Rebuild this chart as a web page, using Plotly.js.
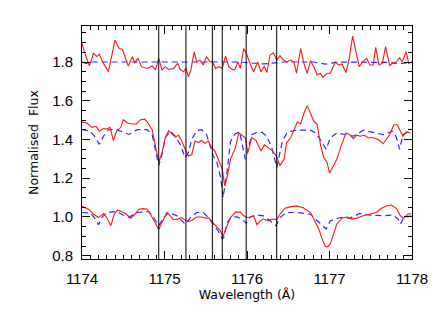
<!DOCTYPE html>
<html>
<head>
<meta charset="utf-8">
<script src="https://cdn.plot.ly/plotly-3.0.1.min.js"></script>
<style>html,body{margin:0;padding:0;background:#fff;}#chart{width:436px;height:312px;}</style>
</head>
<body>
<div id="chart"></div>
<script>
// ---- Data ----
const lineWavelengths = [1174.93, 1175.26, 1175.58, 1175.70, 1175.99, 1176.36];

const topObsWl = [1174.00,1174.04,1174.09,1174.14,1174.18,1174.21,1174.26,1174.32,1174.40,1174.45,1174.49,1174.56,1174.61,1174.64,1174.68,1174.72,1174.79,1174.85,1174.89,1174.93,1174.97,1175.01,1175.05,1175.11,1175.16,1175.19,1175.23,1175.26,1175.29,1175.32,1175.36,1175.39,1175.43,1175.47,1175.51,1175.55,1175.58,1175.62,1175.66,1175.70,1175.74,1175.78,1175.82,1175.85,1175.89,1175.92,1175.96,1176.00,1176.03,1176.08,1176.13,1176.17,1176.21,1176.24,1176.28,1176.32,1176.36,1176.40,1176.44,1176.48,1176.53,1176.57,1176.60,1176.65,1176.69,1176.73,1176.77,1176.81,1176.85,1176.89,1176.92,1176.97,1177.01,1177.07,1177.11,1177.15,1177.20,1177.24,1177.28,1177.32,1177.36,1177.40,1177.45,1177.49,1177.53,1177.56,1177.60,1177.64,1177.68,1177.73,1177.77,1177.81,1177.85,1177.88,1177.93,1177.96,1178.00];
const topObsFlux = [1.896,1.836,1.780,1.845,1.828,1.840,1.793,1.750,1.913,1.870,1.866,1.780,1.827,1.797,1.819,1.776,1.767,1.780,1.759,1.819,1.759,1.776,1.762,1.767,1.793,1.762,1.750,1.767,1.724,1.759,1.853,1.802,1.810,1.785,1.827,1.802,1.802,1.767,1.776,1.767,1.830,1.776,1.762,1.759,1.800,1.767,1.870,1.836,1.800,1.750,1.800,1.750,1.780,1.745,1.836,1.848,1.810,1.833,1.810,1.800,1.810,1.800,1.742,1.870,1.793,1.742,1.807,1.776,1.733,1.742,1.721,1.742,1.742,1.800,1.785,1.790,1.745,1.819,1.934,1.845,1.776,1.800,1.819,1.785,1.785,1.876,1.785,1.793,1.879,1.780,1.797,1.800,1.822,1.800,1.853,1.793,1.800];

const topModWl = [1174.00,1174.05,1174.12,1174.30,1174.90,1175.40,1175.70,1175.90,1176.20,1176.45,1176.80,1176.95,1177.10,1177.40,1177.70,1177.85,1178.00];
const topModFlux = [1.800,1.793,1.800,1.800,1.800,1.800,1.797,1.800,1.790,1.800,1.800,1.789,1.800,1.800,1.798,1.791,1.800];

const midObsWl = [1174.00,1174.06,1174.12,1174.17,1174.21,1174.26,1174.30,1174.34,1174.38,1174.42,1174.47,1174.50,1174.55,1174.61,1174.66,1174.71,1174.76,1174.80,1174.85,1174.89,1174.93,1174.97,1175.01,1175.05,1175.09,1175.13,1175.17,1175.21,1175.25,1175.29,1175.33,1175.37,1175.41,1175.45,1175.49,1175.53,1175.57,1175.61,1175.65,1175.70,1175.73,1175.76,1175.80,1175.86,1175.90,1175.94,1175.98,1176.01,1176.06,1176.11,1176.17,1176.21,1176.26,1176.31,1176.36,1176.40,1176.45,1176.48,1176.53,1176.57,1176.61,1176.65,1176.69,1176.73,1176.77,1176.81,1176.85,1176.89,1176.93,1176.97,1177.00,1177.05,1177.09,1177.14,1177.20,1177.24,1177.29,1177.33,1177.37,1177.42,1177.47,1177.53,1177.59,1177.65,1177.69,1177.73,1177.78,1177.82,1177.85,1177.89,1177.93,1177.98];
const midObsFlux = [1.490,1.485,1.463,1.468,1.443,1.456,1.454,1.463,1.395,1.443,1.463,1.502,1.485,1.480,1.480,1.502,1.505,1.485,1.451,1.366,1.282,1.333,1.409,1.446,1.429,1.412,1.422,1.392,1.350,1.316,1.321,1.392,1.384,1.395,1.380,1.392,1.358,1.341,1.299,1.248,1.160,1.206,1.298,1.358,1.434,1.420,1.409,1.332,1.411,1.394,1.341,1.372,1.358,1.341,1.311,1.265,1.299,1.383,1.409,1.451,1.490,1.480,1.536,1.575,1.536,1.494,1.480,1.375,1.307,1.282,1.226,1.265,1.299,1.366,1.434,1.426,1.404,1.422,1.417,1.422,1.409,1.409,1.400,1.378,1.400,1.426,1.476,1.476,1.451,1.417,1.439,1.434];

const midModWl = [1174.00,1174.10,1174.15,1174.21,1174.26,1174.32,1174.42,1174.57,1174.67,1174.79,1174.85,1174.89,1174.93,1174.97,1175.01,1175.07,1175.13,1175.19,1175.25,1175.29,1175.33,1175.39,1175.45,1175.51,1175.55,1175.59,1175.63,1175.68,1175.71,1175.76,1175.80,1175.86,1175.91,1175.98,1176.06,1176.12,1176.18,1176.24,1176.30,1176.36,1176.43,1176.49,1176.61,1176.77,1176.83,1176.89,1176.96,1177.01,1177.09,1177.21,1177.29,1177.41,1177.53,1177.65,1177.77,1177.81,1177.85,1177.89,1177.97];
const midModFlux = [1.451,1.443,1.417,1.375,1.417,1.451,1.451,1.426,1.451,1.451,1.426,1.341,1.265,1.324,1.409,1.443,1.417,1.375,1.307,1.333,1.400,1.446,1.451,1.426,1.366,1.316,1.290,1.206,1.100,1.240,1.390,1.430,1.440,1.298,1.425,1.437,1.437,1.417,1.358,1.256,1.392,1.439,1.448,1.448,1.434,1.400,1.349,1.409,1.434,1.425,1.417,1.448,1.437,1.425,1.443,1.412,1.349,1.425,1.443];

const botObsWl = [1174.00,1174.02,1174.08,1174.14,1174.20,1174.26,1174.30,1174.35,1174.39,1174.43,1174.48,1174.54,1174.59,1174.64,1174.69,1174.74,1174.79,1174.83,1174.87,1174.93,1174.97,1175.03,1175.07,1175.11,1175.16,1175.21,1175.26,1175.30,1175.34,1175.39,1175.45,1175.50,1175.54,1175.58,1175.63,1175.67,1175.71,1175.75,1175.80,1175.86,1175.92,1175.96,1176.00,1176.04,1176.08,1176.12,1176.16,1176.20,1176.26,1176.30,1176.36,1176.40,1176.46,1176.52,1176.60,1176.68,1176.77,1176.83,1176.87,1176.91,1176.95,1176.98,1177.01,1177.05,1177.09,1177.15,1177.21,1177.27,1177.33,1177.41,1177.49,1177.57,1177.63,1177.69,1177.75,1177.81,1177.86,1177.90,1177.95,1177.99];
const botObsFlux = [1.055,1.052,1.040,1.014,0.997,1.018,0.997,0.955,1.014,1.035,1.028,1.014,0.994,1.014,1.040,1.043,1.040,1.014,0.980,0.935,0.972,1.023,1.006,0.986,0.989,0.997,0.980,0.977,0.986,1.000,1.000,0.994,0.994,0.972,0.950,0.933,0.899,0.946,0.997,1.025,1.025,1.006,0.997,1.000,1.006,0.960,0.980,0.989,0.980,0.989,0.986,1.014,1.045,1.052,1.057,1.048,1.023,0.972,0.938,0.887,0.848,0.845,0.862,0.913,0.964,0.994,1.000,0.989,0.994,1.006,1.014,1.023,1.045,1.057,1.062,1.045,1.006,0.994,1.014,1.018];

const botModWl = [1174.00,1174.10,1174.15,1174.20,1174.24,1174.30,1174.42,1174.56,1174.67,1174.81,1174.87,1174.93,1174.99,1175.05,1175.15,1175.25,1175.31,1175.39,1175.47,1175.53,1175.59,1175.65,1175.70,1175.72,1175.76,1175.81,1175.88,1175.94,1175.99,1176.04,1176.12,1176.20,1176.28,1176.35,1176.40,1176.48,1176.61,1176.77,1176.83,1176.91,1176.96,1177.01,1177.13,1177.25,1177.37,1177.49,1177.65,1177.77,1177.83,1177.86,1177.90,1177.99];
const botModFlux = [1.023,1.020,0.997,0.960,0.997,1.023,1.028,0.997,1.023,1.028,0.997,0.955,0.997,1.023,1.006,0.963,0.994,1.023,1.023,0.997,0.963,0.929,0.887,0.895,0.972,1.000,1.000,0.989,0.967,1.000,1.010,1.006,0.980,0.955,0.997,1.023,1.023,1.014,0.989,0.955,0.938,0.980,0.997,0.994,1.018,1.010,1.006,1.010,0.989,0.963,0.997,1.006];

const xTickVals = [1174, 1175, 1176, 1177, 1178];
const yTickVals = [0.8, 1.0, 1.2, 1.4, 1.6, 1.8];
const yTickText = ['0.8', '1.0', '1.2', '1.4', '1.6', '1.8'];

// ---- Styling ----
const RED = 'rgb(255,20,20)';
const BLUE = 'rgb(40,40,255)';
const modelLine = {color: BLUE, width: 1.2, dash: '6px,4px'};
const obsLine = {color: RED, width: 1.1};

const traces = [
  {x: topModWl, y: topModFlux, mode: 'lines', line: modelLine},
  {x: midModWl, y: midModFlux, mode: 'lines', line: modelLine},
  {x: botModWl, y: botModFlux, mode: 'lines', line: modelLine},
  {x: topObsWl, y: topObsFlux, mode: 'lines', line: obsLine},
  {x: midObsWl, y: midObsFlux, mode: 'lines', line: obsLine},
  {x: botObsWl, y: botObsFlux, mode: 'lines', line: obsLine}
].map(t => Object.assign({type: 'scatter', showlegend: false, hoverinfo: 'skip'}, t));

const shapes = lineWavelengths.map(w => ({
  type: 'line', xref: 'x', yref: 'paper', x0: w, x1: w, y0: 0, y1: 1,
  line: {color: 'black', width: 1}, layer: 'above'
}));

const tickFont = {family: 'Liberation Sans, Arial, sans-serif', size: 15, color: 'black'};
const titleFont = {family: 'DejaVu Sans, sans-serif', size: 12.5, color: 'black'};

const layout = {
  width: 436, height: 312,
  margin: {l: 82, r: 24, t: 26, b: 53},
  paper_bgcolor: 'white', plot_bgcolor: 'white',
  showlegend: false,
  shapes: shapes,
  xaxis: {
    range: [1174, 1178],
    tickvals: xTickVals, ticktext: xTickVals.map(String),
    ticks: 'inside', ticklen: 8, tickwidth: 1, tickcolor: 'black',
    minor: {dtick: 0.1, tick0: 1174, ticks: 'inside', ticklen: 4, tickcolor: 'black', tickwidth: 1, showgrid: false},
    showline: true, linecolor: 'black', linewidth: 1, mirror: 'allticks',
    showgrid: false, zeroline: false,
    tickfont: tickFont, ticklabelstandoff: 6,
    title: {text: 'Wavelength (Å)', font: titleFont, standoff: 4}
  },
  yaxis: {
    range: [0.783, 1.986],
    tickvals: yTickVals, ticktext: yTickText,
    ticks: 'inside', ticklen: 8, tickwidth: 1, tickcolor: 'black',
    minor: {dtick: 0.05, tick0: 0.8, ticks: 'inside', ticklen: 4, tickcolor: 'black', tickwidth: 1, showgrid: false},
    showline: true, linecolor: 'black', linewidth: 1, mirror: 'allticks',
    showgrid: false, zeroline: false,
    tickfont: tickFont, ticklabelstandoff: 5,
    title: {text: 'Normalised  Flux', font: titleFont, standoff: 10}
  }
};

Plotly.newPlot('chart', traces, layout, {staticPlot: true, displayModeBar: false});
</script>
</body>
</html>
